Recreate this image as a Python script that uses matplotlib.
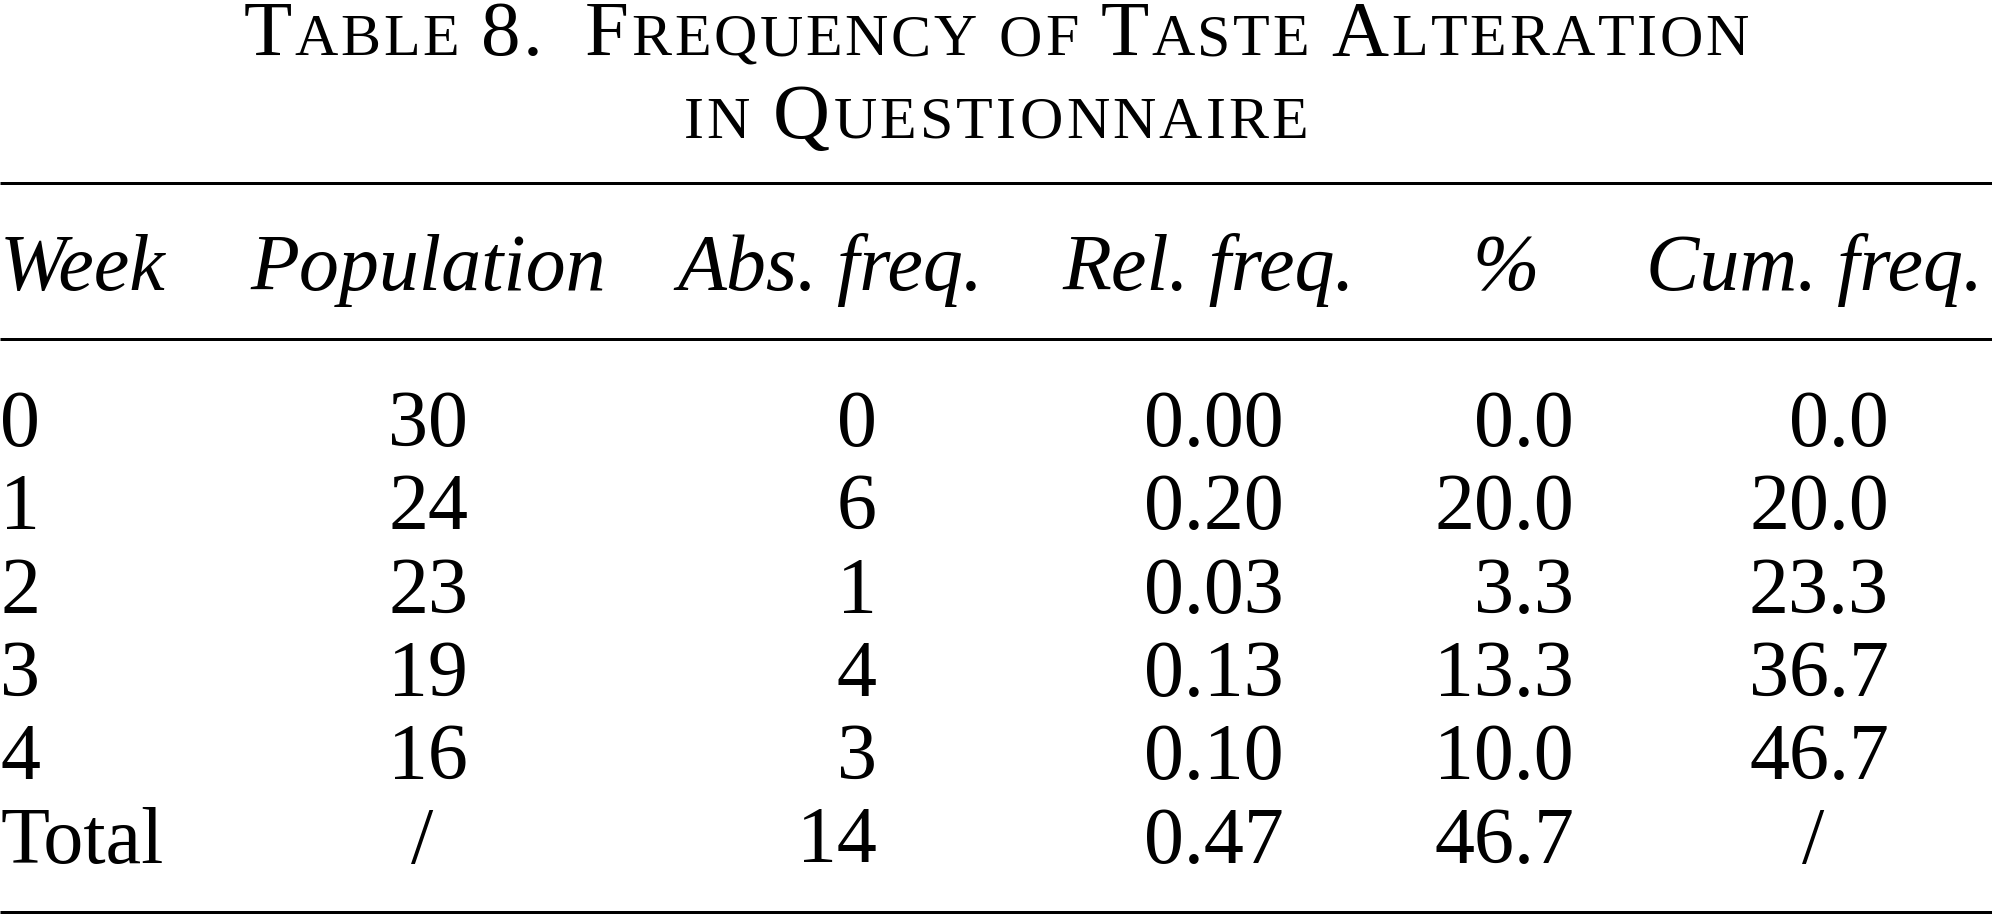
import matplotlib
matplotlib.use("Agg")
import matplotlib.pyplot as plt
from matplotlib import font_manager as fm
from matplotlib.ft2font import FT2Font

# ---------------- data ----------------
title_lines = ["Table 8.  Frequency of Taste Alteration", "in Questionnaire"]
headers = ["Week", "Population", "Abs. freq.", "Rel. freq.", "%", "Cum. freq."]
weeks = ["0", "1", "2", "3", "4", "Total"]
population = ["30", "24", "23", "19", "16", "/"]
abs_freq = ["0", "6", "1", "4", "3", "14"]
rel_freq = ["0.00", "0.20", "0.03", "0.13", "0.10", "0.47"]
percent = ["0.0", "20.0", "3.3", "13.3", "10.0", "46.7"]
cum_freq = ["0.0", "20.0", "23.3", "36.7", "46.7", "/"]

# ---------------- layout (pixels) ----------------
W, H, DPI = 1992, 915, 100
FONT = "Liberation Serif"
BODY_PX = 80
CAP_PX = 79
SC_PX = 60
TRACK = [2.6, 3.2]
title_base = [55, 138]
rule_y = [183, 339, 912]
rule_lw_px = 3
header_base = 290
row_base0, row_step = 446, 83.3
header_centers = [None, 428, 830, 1209, 1506, 1815]
col_right = [None, 468, 877, 1284, 1574, 1889]
slash_centers = [None, 422, None, None, None, 1813]

def pt(px):
    return px * 72.0 / DPI

fig = plt.figure(figsize=(W / DPI, H / DPI), dpi=DPI)
ax = fig.add_axes([0, 0, 1, 1])
ax.set_xlim(0, W)
ax.set_ylim(H, 0)
ax.axis("off")

# --- small caps title via font advances ---
fpath = fm.findfont(fm.FontProperties(family=FONT))
ft = FT2Font(fpath)

def advance(c, px):
    ft.set_size(pt(px), DPI)
    return ft.load_char(ord(c)).linearHoriAdvance / 65536.0

for line, yb, track in zip(title_lines, title_base, TRACK):
    pieces = []
    x = 0.0
    for c in line:
        if c == " ":
            x += advance(c, CAP_PX)
            continue
        if c.islower():
            ch, px = c.upper(), SC_PX
        else:
            ch, px = c, CAP_PX
        pieces.append((x, ch, px))
        x += advance(ch, px) + track
    x -= track
    x0 = W / 2.0 - x / 2.0
    for px_off, s, px in pieces:
        ax.text(x0 + px_off, yb, s, fontfamily=FONT, fontsize=pt(px),
                ha="left", va="baseline", color="black")

# --- rules ---
ax.hlines(rule_y, 0, W, colors="black", linewidth=pt(rule_lw_px))

# --- headers ---
for i, h in enumerate(headers):
    if i == 0:
        ax.text(0, header_base, h, fontfamily=FONT, fontstyle="italic",
                fontsize=pt(BODY_PX), ha="left", va="baseline")
    else:
        ax.text(header_centers[i], header_base, h, fontfamily=FONT,
                fontstyle="italic", fontsize=pt(BODY_PX), ha="center",
                va="baseline")

# --- body ---
columns = [weeks, population, abs_freq, rel_freq, percent, cum_freq]
for ci, col in enumerate(columns):
    for ri, val in enumerate(col):
        yb = row_base0 + ri * row_step
        if ci == 0:
            ax.text(0, yb, val, fontfamily=FONT, fontsize=pt(BODY_PX),
                    ha="left", va="baseline")
        elif val == "/":
            ax.text(slash_centers[ci], yb, val, fontfamily=FONT,
                    fontsize=pt(BODY_PX), ha="center", va="baseline")
        else:
            ax.text(col_right[ci], yb, val, fontfamily=FONT,
                    fontsize=pt(BODY_PX), ha="right", va="baseline")

fig.savefig("out.png", dpi=DPI, facecolor="white")
